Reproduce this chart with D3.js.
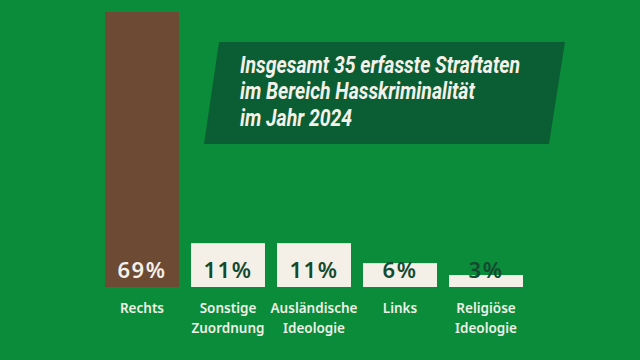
<!DOCTYPE html>
<html><head><meta charset="utf-8">
<script src="https://cdn.jsdelivr.net/npm/d3@7"></script>
<style>html,body{margin:0;padding:0;background:#0b8c3a;}svg{display:block}</style>
</head><body>
<svg id="c" width="640" height="360"></svg>
<script>
const categories = ["Rechts", "Sonstige\nZuordnung", "Ausländische\nIdeologie", "Links", "Religiöse\nIdeologie"];
const values = [69, 11, 11, 6, 3];
const valueLabels = ["69%", "11%", "11%", "6%", "3%"];
const titleLines = ["Insgesamt 35 erfasste Straftaten", "im Bereich Hasskriminalität", "im Jahr 2024"];

const svg = d3.select("#c");
svg.append("rect").attr("width", 640).attr("height", 360).attr("fill", "#0b8c3a");

const x = d3.scaleBand().domain(categories).range([105, 523]).paddingInner(0.14).paddingOuter(0);
const y = d3.scaleLinear().domain([0, 69]).range([287, 12]);

// title box
svg.append("path")
  .attr("d", "M219,42 L565,42 L549,144 L204,144 Z")
  .attr("fill", "#0b5e33");
svg.append("g").attr("transform", "translate(240,0) scale(0.845,1)")
  .selectAll("text").data(titleLines).join("text")
  .attr("x", 0).attr("y", (d, i) => 73 + i * 26.5)
  .attr("font-family", "'Roboto', sans-serif")
  .attr("font-weight", "bold").attr("font-style", "italic")
  .attr("font-size", 23).attr("fill", "#f4f1ea")
  .text(d => d);

// bars
svg.append("g").selectAll("rect").data(values).join("rect")
  .attr("x", (d, i) => x(categories[i]))
  .attr("width", x.bandwidth())
  .attr("y", d => y(d))
  .attr("height", d => y(0) - y(d))
  .attr("fill", (d, i) => i === 0 ? "#6d4a33" : "#f4f0e8");

// value labels
svg.append("g").selectAll("text").data(valueLabels).join("text")
  .attr("x", (d, i) => x(categories[i]) + x.bandwidth() / 2)
  .attr("y", 278)
  .attr("text-anchor", "middle")
  .attr("font-family", "'Noto Sans', sans-serif")
  .attr("font-weight", 600)
  .attr("font-size", 22)
  .attr("letter-spacing", 1.5)
  .attr("fill", (d, i) => i === 0 ? "#f4f0e8" : "#134a30")
  .text(d => d);

// category labels
const cat = svg.append("g").selectAll("text").data(categories).join("text")
  .attr("text-anchor", "middle")
  .attr("font-family", "'Noto Sans', sans-serif")
  .attr("font-weight", 600)
  .attr("font-size", 13.5)
  .attr("fill", "#eef0e6");
cat.each(function(d) {
  const t = d3.select(this);
  const cx = x(d) + x.bandwidth() / 2;
  d.split("\n").forEach((line, j) => {
    t.append("tspan").attr("x", cx).attr("y", 313 + j * 20).text(line);
  });
});
</script>
</body></html>
